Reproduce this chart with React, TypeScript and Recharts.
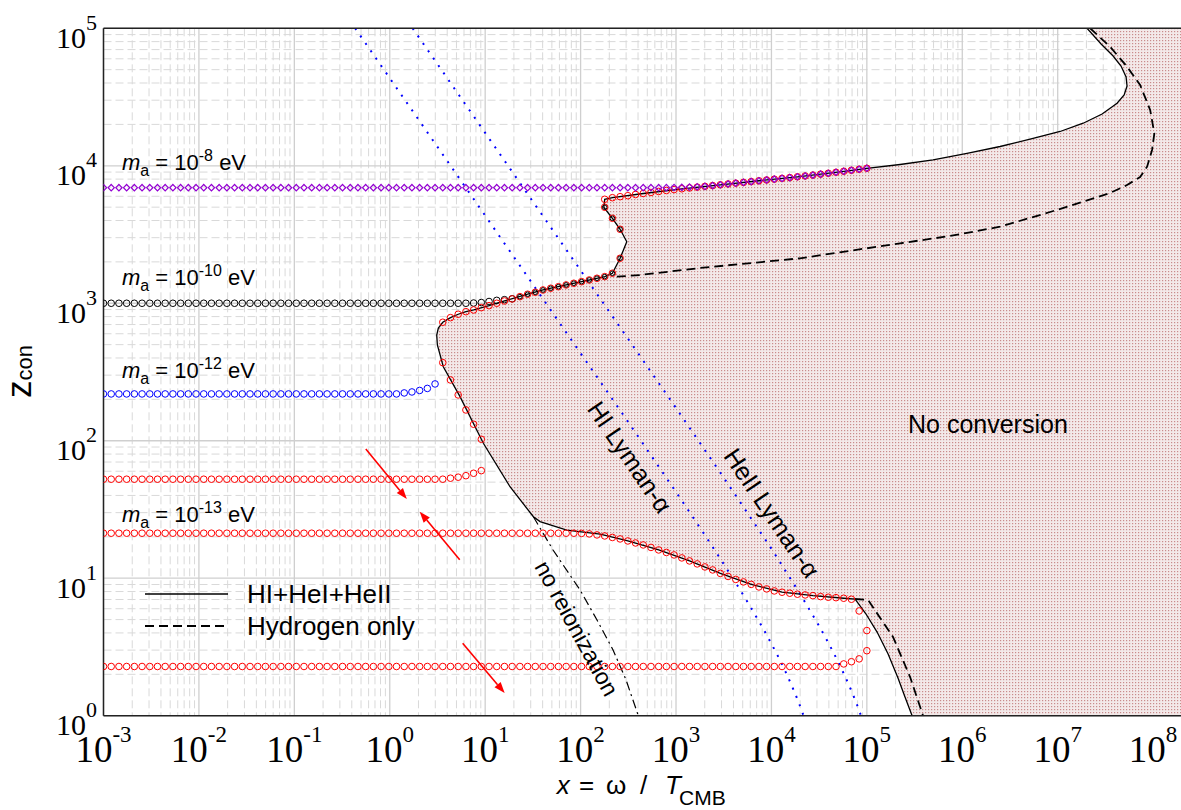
import {
  ComposedChart,
  XAxis,
  YAxis,
  CartesianGrid,
  Scatter,
  Line,
  Area,
  ReferenceLine,
  ReferenceDot,
  Legend,
} from "recharts";

const SANS = "'Liberation Sans', Arial, Helvetica, sans-serif";
const SERIF = "'Liberation Serif', 'Times New Roman', serif";

const X_MIN = 1e-3;
const X_MAX = 1.96e8;
const Z_MIN = 1;
const Z_MAX = 1e5;

const xTicks = [1e-3, 1e-2, 1e-1, 1, 1e1, 1e2, 1e3, 1e4, 1e5, 1e6, 1e7, 1e8];
const yTicks = [1, 1e1, 1e2, 1e3, 1e4, 1e5];
const minorSteps = [2, 3, 4, 5, 6, 7, 8, 9];
const xMinor = xTicks.flatMap((d) => minorSteps.map((m) => m * d)).filter((v) => v < X_MAX);
const yMinor = yTicks.slice(0, -1).flatMap((d) => minorSteps.map((m) => m * d));

// x = omega / T_CMB where z_con was evaluated: 100 log-spaced samples over 1e-3 .. 1e5
const xSamples = Array.from({ length: 100 }, (_, i) => 10 ** (-3 + (8 * i) / 99));

// [sample index, z_con] along the high-z edge shared by several masses
const upperEdge: [number, number][] = [
  [65, 5706], [66, 5861], [67, 5960], [68, 6061], [69, 6184], [70, 6288], [71, 6394],
  [72, 6502], [73, 6613], [74, 6714], [75, 6804], [76, 6896], [77, 6989], [78, 7083],
  [79, 7178], [80, 7275], [81, 7374], [82, 7473], [83, 7573], [84, 7676], [85, 7780],
  [86, 7884], [87, 7990], [88, 8098], [89, 8207], [90, 8318], [91, 8431], [92, 8559],
  [93, 8689], [94, 8821], [95, 8970], [96, 9120], [97, 9275], [98, 9431], [99, 9590],
];

// [sample index, z_con] along the recombination edge and its kink
const recombEdge: [number, number][] = [
  [44, 727.6], [45, 786.1], [46, 831.8], [47, 868.8], [48, 894], [49, 929], [50, 960.5],
  [51, 1000], [52, 1039], [53, 1075], [54, 1117], [55, 1163], [56, 1202], [57, 1249],
  [58, 1286], [59, 1320], [60, 1359], [61, 1398], [62, 1436], [63, 1477], [64, 1520],
  [65, 1562], [66, 1653], [67, 2125], [67, 3453], [66, 4151], [65, 4991],
];

// m_a = 1e-8 eV
const ma8Level = 6930;
const ma8FlatTo = 72;
const ma8Bend: [number, number][] = [[73, 6935], [74, 6950], [75, 6970], [76, 6995], [77, 7030]];

// m_a = 1e-10 eV
const ma10Level = 1000;
const ma10FlatTo = 47;
const ma10Bend: [number, number][] = [[48, 1004], [49, 1012], [50, 1030], [51, 1050], [52, 1062], [53, 1078]];

// m_a = 1e-12 eV
const ma12Level = 219;
const ma12FlatTo = 38;
const ma12Bend: [number, number][] = [[39, 222.7], [40, 226.4], [41, 232.2], [42, 240.2], [43, 258.9]];

// m_a = 1e-13 eV, three crossings
const ma13HighLevel = 52.5;
const ma13HighFlatTo = 44;
const ma13HighBend: [number, number][] = [
  [45, 53.4], [46, 54.3], [47, 55.7], [48, 58.0], [49, 60.6],
  [49, 102.5], [48, 131.8], [47, 167.5], [46, 215.4], [45, 276.8], [44, 369.8],
];
const ma13MidLevel = 21.25;
const ma13MidFlatTo = 61;
const ma13MidBend: [number, number][] = [
  [62, 21.18], [63, 21.0], [64, 20.65], [65, 20.3], [66, 19.8], [67, 19.31], [68, 18.67],
  [69, 18.05], [70, 17.46], [71, 16.75], [72, 16.06], [73, 15.4], [74, 14.77], [75, 14.05],
  [76, 13.36], [77, 12.71], [78, 12.08], [79, 11.49], [80, 10.84], [81, 10.3], [82, 9.8],
  [83, 9.4], [84, 9.02], [85, 8.64], [86, 8.36], [87, 8.08], [88, 7.91], [89, 7.78],
  [90, 7.65], [91, 7.56], [92, 7.47], [93, 7.35], [94, 7.27], [95, 7.22], [96, 7.15],
  [97, 7.03], [98, 5.78], [99, 4.16],
];
const ma13LowLevel = 2.28;
const ma13LowFlatTo = 95;
const ma13LowBend: [number, number][] = [[96, 2.38], [97, 2.47], [98, 2.59], [99, 2.97]];

// conversion boundary, all species (x, z_con)
const fullBoundary: [number, number][] = [
  [2.03e7, 1e5], [2.85e7, 7.69e4], [3.81e7, 6.29e4], [4.61e7, 5.32e4], [5.21e7, 4.42e4],
  [5.33e7, 3.8e4], [4.97e7, 3.27e4], [4.19e7, 2.85e4], [2.92e7, 2.38e4], [1.85e7, 2.04e4],
  [1.06e7, 1.776e4], [5.52e6, 1.58e4], [2.49e6, 1.381e4], [1.12e6, 1.23e4], [4.94e5, 1.102e4],
  [2.23e5, 1.022e4], [1e5, 9590],
  [57224, 9120], [18738, 8318], [7390, 7780], [2915, 7275], [1150, 6804], [453.6, 6288],
  [215.4, 5861], [178.9, 5706], [175, 4991], [215.4, 4151], [259.5, 3453], [304.6, 2804],
  [259.5, 2125], [215.4, 1653], [178.9, 1562], [102.4, 1436], [70.56, 1359], [40.37, 1249],
  [27.83, 1163], [15.92, 1039], [10.98, 960.5], [7.565, 894], [6.281, 868.8], [5.214, 831.8],
  [4.329, 786.1], [3.594, 727.6], [3.23, 660.7], [3.105, 587.5], [3.155, 497], [3.64, 345.6],
  [5.45, 209.2], [9.57, 95.8], [18.2, 46.3], [32.0, 28.0], [37.6, 25.8], [71.6, 22.4],
  [160, 20.9], [312.6, 18.67], [658, 16.06], [1385, 13.36], [2915, 10.84], [6136, 9.02],
  [12915, 7.91], [27186, 7.47], [57224, 7.15], [7.53e4, 7.06], [9.8e4, 5.49], [1.28e5, 4.06],
  [1.67e5, 2.81], [2.12e5, 1.88], [2.51e5, 1.37], [2.98e5, 1],
];

// conversion boundary, hydrogen only (where it leaves the full one)
const hydrogenHigh: [number, number][] = [
  [2.19e7, 1e5], [3.54e7, 7.35e4], [5.33e7, 5.26e4], [7.31e7, 3.87e4], [9.31e7, 2.55e4],
  [1.03e8, 1.72e4], [9.75e7, 1.303e4], [8.65e7, 9847], [7.31e7, 8287], [5.33e7, 7248],
  [3.54e7, 6339], [1.85e7, 5480], [8.32e6, 4611], [2.49e6, 3605], [7.45e5, 3085],
  [2.23e5, 2730], [1.99e4, 2123], [1786, 1805], [420, 1605], [215, 1552],
];
const hydrogenLow: [number, number][] = [
  [7.53e4, 7.06], [1.03e5, 6.95], [1.38e5, 5.14], [1.88e5, 3.74], [2.84e5, 1.91], [3.88e5, 1],
];

const noReionization: [number, number][] = [
  [32.0, 28.0], [51.4, 16.05], [98.7, 8.21], [148.6, 4.97], [218.8, 3.01], [299.5, 1.82], [402.7, 1],
];

const lymanHI: [number, number][] = [
  [0.434, 1e5], [1, 43400], [3, 14470], [10, 4340], [30, 1446], [100, 433], [300, 144],
  [1000, 42.4], [2000, 20.7], [4000, 9.85], [6000, 6.23], [8000, 4.43], [10000, 3.34],
  [12000, 2.62], [14000, 2.1], [16000, 1.71], [18000, 1.41], [20000, 1.17], [21700, 1],
];
const lymanHeII: [number, number][] = [
  [1.736, 1e5], [3, 57870], [10, 17360], [30, 5786], [100, 1735], [300, 578], [1000, 173],
  [3000, 56.9], [10000, 16.4], [20000, 7.68], [30000, 4.79], [40000, 3.34], [50000, 2.47],
  [60000, 1.89], [70000, 1.48], [80000, 1.17], [86800, 1],
];

const pts = (a: [number, number][]) => a.map(([x, z]) => ({ x, z }));
const sampled = (a: [number, number][]) => a.map(([k, z]) => ({ x: xSamples[k], z }));
const row = (level: number, flatTo: number, bend: [number, number][]) => [
  ...xSamples.slice(0, flatTo + 1).map((x) => ({ x, z: level })),
  ...sampled(bend),
];

const ma8Data = [...row(ma8Level, ma8FlatTo, ma8Bend), ...sampled(upperEdge.filter(([k]) => k >= 78))];
const ma10Row = row(ma10Level, ma10FlatTo, ma10Bend);
const ma10Edge = sampled(recombEdge.slice(10));
const ma12Data = row(ma12Level, ma12FlatTo, ma12Bend);
const ma13High = [...row(ma13HighLevel, ma13HighFlatTo, ma13HighBend), ...sampled(recombEdge), ...sampled(upperEdge)];
const ma13Mid = row(ma13MidLevel, ma13MidFlatTo, ma13MidBend);
const ma13Low = row(ma13LowLevel, ma13LowFlatTo, ma13LowBend);

// shaded "no conversion" region: boundary closed along the bottom and right edge
const shadedRegion = [...pts(fullBoundary), { x: X_MAX, z: Z_MIN }, { x: X_MAX, z: Z_MAX }];

const ring = (stroke: string, r = 3.3) => (p: any) =>
  p.cx == null ? <g /> : <circle cx={p.cx} cy={p.cy} r={r} fill="none" stroke={stroke} strokeWidth={1} />;

const diamond = (p: any) =>
  p.cx == null ? (
    <g />
  ) : (
    <path
      d={`M${p.cx} ${p.cy - 3.2}L${p.cx + 3.1} ${p.cy}L${p.cx} ${p.cy + 3.2}L${p.cx - 3.1} ${p.cy}Z`}
      fill="none"
      stroke="#9400d3"
      strokeWidth={1.2}
    />
  );

function DecadeTickX({ x, y, payload }: any) {
  const p = Math.round(Math.log10(payload.value));
  return (
    <text x={x} y={y + 46} textAnchor="middle" fontFamily={SERIF} fontSize={37} fill="#000">
      10
      <tspan dy={-20} fontSize={23}>{p}</tspan>
    </text>
  );
}

function DecadeTickY({ x, y, payload }: any) {
  const p = Math.round(Math.log10(payload.value));
  return (
    <text x={x - 6.5} y={y + 19.5} textAnchor="end" fontFamily={SERIF} fontSize={30} fill="#000">
      10
      <tspan dy={-18} fontSize={22}>{p}</tspan>
    </text>
  );
}

function MassLabel({ cx, cy, exp }: any) {
  return (
    <text x={cx} y={cy} fontFamily={SANS} fontSize={22} fill="#000">
      <tspan fontStyle="italic">m</tspan>
      <tspan fontSize={16} dy={6}>a</tspan>
      <tspan dy={-6}> = 10</tspan>
      <tspan fontSize={16} dy={-9}>{exp}</tspan>
      <tspan dy={9}> eV</tspan>
    </text>
  );
}

function Slanted({ cx, cy, angle, size, children }: any) {
  return (
    <text
      x={cx}
      y={cy}
      transform={`rotate(${angle} ${cx} ${cy})`}
      textAnchor="middle"
      dominantBaseline="central"
      fontFamily={SANS}
      fontSize={size}
      fill="#000"
    >
      {children}
    </text>
  );
}

function Arrow({ x1, y1, x2, y2 }: any) {
  const a = Math.atan2(y2 - y1, x2 - x1);
  const len = 11;
  const w = 4;
  const bx = x2 - len * Math.cos(a);
  const by = y2 - len * Math.sin(a);
  const head = `${x2},${y2} ${bx + w * Math.sin(a)},${by - w * Math.cos(a)} ${bx - w * Math.sin(a)},${by + w * Math.cos(a)}`;
  return (
    <g>
      <line x1={x1} y1={y1} x2={bx} y2={by} stroke="#ff0000" strokeWidth={1.6} />
      <polygon points={head} fill="#ff0000" />
    </g>
  );
}

function BoundaryKey({ payload }: any) {
  const items = (payload ?? []).filter((p: any) => p.type !== "none");
  return (
    <svg width={330} height={72} style={{ display: "block", overflow: "visible" }}>
      {items.map((p: any, i: number) => (
        <g key={p.value}>
          <line
            x1={0}
            x2={83}
            y1={16 + i * 32}
            y2={16 + i * 32}
            stroke="#000"
            strokeWidth={i === 0 ? 1.3 : 1.8}
            strokeDasharray={p.payload?.strokeDasharray}
          />
          <text x={102} y={25 + i * 32} fontFamily={SANS} fontSize={26} fill="#000">
            {p.value}
          </text>
        </g>
      ))}
    </svg>
  );
}

export default function App() {
  return (
    <div style={{ position: "absolute", left: 0, top: 0, background: "#fff" }}>
      <ComposedChart width={1181} height={810} margin={{ top: 28.3, right: 0, bottom: 0, left: 0 }}>
        <defs>
          <pattern id="noConversion" width={3} height={3} patternUnits="userSpaceOnUse">
            <rect width={3} height={3} fill="#f3e9e9" />
            <rect x={1} y={1} width={1.2} height={1.2} fill="#c98b8b" />
          </pattern>
        </defs>

        <CartesianGrid
          verticalValues={xMinor}
          horizontalValues={yMinor}
          stroke="#d9d9d9"
          strokeDasharray="8 4"
        />
        <CartesianGrid stroke="#cfcfcf" strokeWidth={1.3} />

        <XAxis
          dataKey="x"
          type="number"
          scale="log"
          domain={[X_MIN, X_MAX]}
          allowDataOverflow
          ticks={xTicks}
          interval={0}
          tick={<DecadeTickX />}
          tickLine={false}
          tickSize={0}
          tickMargin={0}
          axisLine={{ stroke: "#222", strokeWidth: 1.5 }}
          height={94.3}
          label={{
            content: () => (
              <text y={794} fontFamily={SANS} fontSize={26} fill="#000">
                <tspan x={556.7} fontStyle="italic">x</tspan>
                <tspan x={579}>=</tspan>
                <tspan x={606}>ω</tspan>
                <tspan x={640}>/</tspan>
                <tspan x={665} fontStyle="italic">T</tspan>
                <tspan x={679} dy={11} fontSize={21}>CMB</tspan>
              </text>
            ),
          }}
        />
        <YAxis
          dataKey="z"
          type="number"
          scale="log"
          domain={[Z_MIN, Z_MAX]}
          allowDataOverflow
          ticks={yTicks}
          interval={0}
          tick={<DecadeTickY />}
          tickLine={false}
          tickSize={0}
          tickMargin={0}
          axisLine={{ stroke: "#222", strokeWidth: 1.5 }}
          width={103.5}
          label={{
            content: () => (
              <text transform="rotate(-90)" x={-398} y={31} fontFamily={SANS} fontSize={35} fill="#000">
                z
                <tspan fontSize={22} dy={1}>con</tspan>
              </text>
            ),
          }}
        />

        <Area
          data={shadedRegion}
          dataKey="z"
          type="linear"
          baseValue={Z_MAX}
          fill="url(#noConversion)"
          fillOpacity={1}
          stroke="none"
          legendType="none"
          isAnimationActive={false}
          activeDot={false}
        />

        <Line data={pts(lymanHI)} dataKey="z" type="linear" stroke="#0000ff" strokeWidth={2} strokeDasharray="2 7" dot={false} activeDot={false} legendType="none" isAnimationActive={false} />
        <Line data={pts(lymanHeII)} dataKey="z" type="linear" stroke="#0000ff" strokeWidth={2} strokeDasharray="2 7" dot={false} activeDot={false} legendType="none" isAnimationActive={false} />
        <Line data={pts(noReionization)} dataKey="z" type="linear" stroke="#000" strokeWidth={1.2} strokeDasharray="9 4 2 4" dot={false} activeDot={false} legendType="none" isAnimationActive={false} />

        <Line name="HI+HeI+HeII" data={pts(fullBoundary)} dataKey="z" type="linear" stroke="#000" strokeWidth={1.3} dot={false} activeDot={false} isAnimationActive={false} />
        <Line name="Hydrogen only" data={pts(hydrogenHigh)} dataKey="z" type="linear" stroke="#000" strokeWidth={1.8} strokeDasharray="9 5" dot={false} activeDot={false} isAnimationActive={false} />
        <Line data={pts(hydrogenLow)} dataKey="z" type="linear" stroke="#000" strokeWidth={1.8} strokeDasharray="9 5" dot={false} activeDot={false} legendType="none" isAnimationActive={false} />

        <Scatter data={ma10Row} shape={ring("#000")} legendType="none" isAnimationActive={false} />
        <Scatter data={ma12Data} shape={ring("#0000ff")} legendType="none" isAnimationActive={false} />
        <Scatter data={ma13Low} shape={ring("#ff0000")} legendType="none" isAnimationActive={false} />
        <Scatter data={ma13Mid} shape={ring("#ff0000")} legendType="none" isAnimationActive={false} />
        <Scatter data={ma13High} shape={ring("#ff0000")} legendType="none" isAnimationActive={false} />
        <Scatter data={ma10Edge} shape={ring("#000", 2.3)} legendType="none" isAnimationActive={false} />
        <Scatter data={ma8Data} shape={diamond} legendType="none" isAnimationActive={false} />

        <ReferenceLine y={Z_MAX} stroke="#222" strokeWidth={1.5} ifOverflow="visible" />

        <ReferenceLine segment={[{ x: 0.561, y: 87.2 }, { x: 1.51, y: 37.7 }]} shape={Arrow} ifOverflow="visible" />
        <ReferenceLine segment={[{ x: 5.41, y: 13.6 }, { x: 2.06, y: 30.5 }]} shape={Arrow} ifOverflow="visible" />
        <ReferenceLine segment={[{ x: 5.81, y: 3.37 }, { x: 16.0, y: 1.46 }]} shape={Arrow} ifOverflow="visible" />

        <ReferenceDot x={1.563e-3} y={9318} ifOverflow="visible" shape={(p: any) => <MassLabel {...p} exp="-8" />} />
        <ReferenceDot x={1.563e-3} y={1358} ifOverflow="visible" shape={(p: any) => <MassLabel {...p} exp="-10" />} />
        <ReferenceDot x={1.563e-3} y={284.6} ifOverflow="visible" shape={(p: any) => <MassLabel {...p} exp="-12" />} />
        <ReferenceDot x={1.563e-3} y={25.8} ifOverflow="visible" shape={(p: any) => <MassLabel {...p} exp="-13" />} />

        <ReferenceDot
          x={2.7e5}
          y={113.3}
          ifOverflow="visible"
          shape={(p: any) => (
            <text x={p.cx} y={p.cy} fontFamily={SANS} fontSize={25} fill="#000">
              No conversion
            </text>
          )}
        />
        <ReferenceDot x={329.7} y={76.1} ifOverflow="visible" shape={(p: any) => <Slanted {...p} angle={55.6} size={25}>HI Lyman-α</Slanted>} />
        <ReferenceDot x={10160} y={29.8} ifOverflow="visible" shape={(p: any) => <Slanted {...p} angle={56} size={25}>HeII Lyman-α</Slanted>} />
        <ReferenceDot x={91.2} y={4.32} ifOverflow="visible" shape={(p: any) => <Slanted {...p} angle={61.5} size={23}>no reionization</Slanted>} />

        <Legend
          layout="vertical"
          align="center"
          verticalAlign="middle"
          content={<BoundaryKey />}
          wrapperStyle={{ left: 145, top: 578, width: 330, height: 72 }}
        />
      </ComposedChart>
    </div>
  );
}
